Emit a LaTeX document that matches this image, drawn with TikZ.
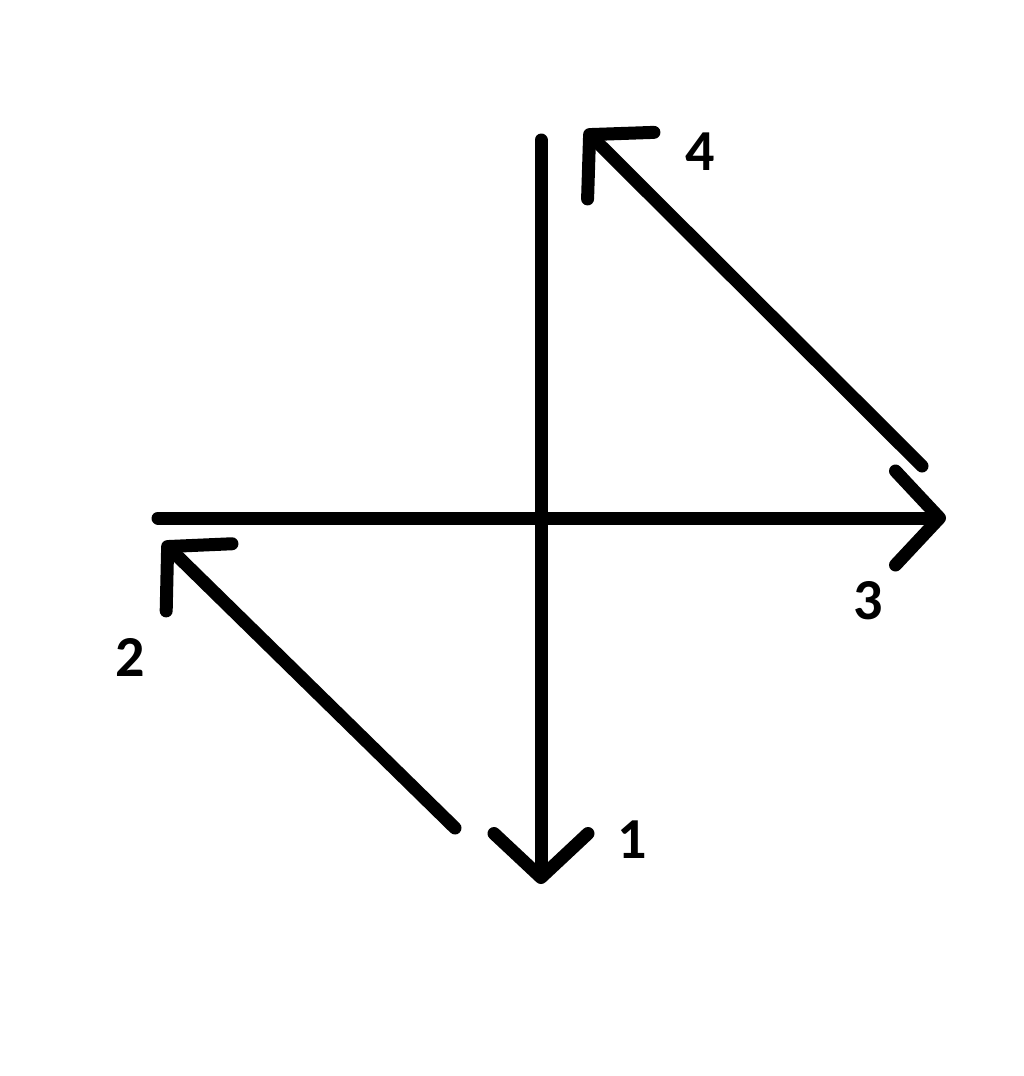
\documentclass[tikz,border=0pt]{standalone}
\usepackage{fontspec}
\setmainfont{Carlito}
\usetikzlibrary{arrows.meta}

\begin{document}
\begin{tikzpicture}[x=1pt,y=-1pt,line width=13pt,line cap=round,
  barb/.style={-{Straight Barb[length=44pt,width=94pt,line cap=round,line join=round]}},
  num/.style={font=\fontsize{58}{58}\selectfont\bfseries,inner sep=0pt}]
  \useasboundingbox (0,0) rectangle (1024,1076);
  % axes
  \coordinate (top)    at (541,140);
  \coordinate (bottom) at (541,884);
  \coordinate (left)   at (158,518);
  \coordinate (right)  at (946,518);
  % diagonal strokes
  \coordinate (d2s) at (455,828);
  \coordinate (d2e) at (163,542);
  \coordinate (d4s) at (922,466);
  \coordinate (d4e) at (585,130);
  \draw[barb] (top) -- (bottom);
  \draw[barb] (left) -- (right);
  \draw[barb] (d2s) -- (d2e);
  \draw[barb] (d4s) -- (d4e);
  % labels
  \node[num] (n1) at (632,840) {1};
  \node[num] (n2) at (130,657) {2};
  \node[num] (n3) at (868,601) {3};
  \node[num] (n4) at (700,152) {4};
\end{tikzpicture}
\end{document}
